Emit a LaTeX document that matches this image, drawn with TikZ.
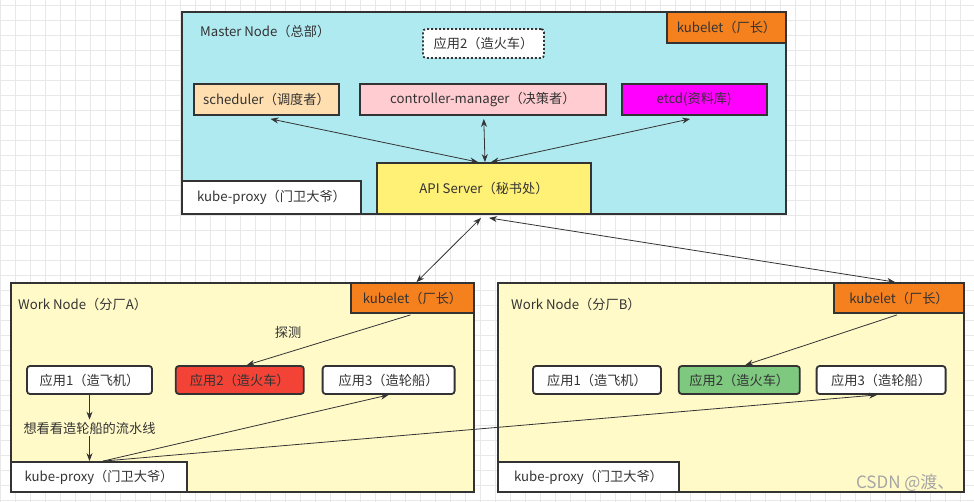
\documentclass[tikz,border=0pt]{standalone}
\usepackage{fontspec}
\setmainfont{Noto Sans CJK SC}
\usepackage{xcolor}
\usetikzlibrary{arrows.meta,positioning,calc}
\definecolor{mastercyan}{RGB}{176,234,241}
\definecolor{workyellow}{RGB}{255,250,200}
\definecolor{kubeorange}{RGB}{244,128,30}
\definecolor{schedpeach}{RGB}{255,223,176}
\definecolor{ctrlpink}  {RGB}{255,204,209}
\definecolor{etcdmag}   {RGB}{255,0,255}
\definecolor{apiyellow} {RGB}{255,240,118}
\definecolor{appred}    {RGB}{243,67,54}
\definecolor{appgreen}  {RGB}{126,200,128}
\definecolor{edgegray}  {RGB}{51,51,51}
\definecolor{txtgray}   {RGB}{51,51,51}
\definecolor{gridgray}  {RGB}{232,232,232}
\definecolor{wmgray}    {RGB}{165,165,165}
\newcommand{\diagfont}{\fontsize{13.2}{16}\selectfont}
\tikzset{
  txt/.style    ={font=\diagfont, text=txtgray, inner sep=2pt},
  base/.style   ={txt, draw=edgegray, line width=1.8pt, inner sep=0pt},
  area/.style   ={base, fill=#1},
  area/.default=white,
  tag/.style    ={base, fill=#1, minimum height=30},
  comp/.style   ={base, fill=#1, minimum height=31},
  app/.style    ={base, fill=#1, rounded corners=3pt, minimum height=28},
  app/.default=white,
  link/.style   ={{Stealth[length=8pt,width=6pt]}-{Stealth[length=8pt,width=6pt]},
                  line width=0.8pt, draw=edgegray},
  arr/.style    ={-{Stealth[length=8pt,width=6pt]}, line width=0.8pt, draw=edgegray},
  gridline/.style={draw=gridgray, line width=0.8pt},
}
\begin{document}
\begin{tikzpicture}[x=1pt,y=-1pt]
  \useasboundingbox (0,0) rectangle (974,502);
  \fill[white] (0,0) rectangle (974,502);
  \foreach \gx in {0,15,...,970} \draw[gridline] (\gx,0) -- (\gx,502);
  \foreach \gy in {5,20,...,500} \draw[gridline] (0,\gy) -- (974,\gy);
  %% master node
  \node[area=mastercyan, minimum width=604, minimum height=202] (master) at (484,113) {};
  \node[txt, anchor=west] (mtitle) at (198,31) {Master Node（总部）};
  \node[tag=kubeorange, minimum width=119, minimum height=31, anchor=north east] (kubM) at (master.north east) {kubelet（厂长）};
  \node[app, dash pattern=on 2pt off 2pt, minimum width=121, minimum height=29] (app2M) at (483.5,43.5) {应用2（造火车）};
  \node[comp=schedpeach, minimum width=145] (sched) at (266.5,99.5) {scheduler（调度者）};
  \node[comp=ctrlpink, minimum width=246, right=19 of sched] (ctrl) {controller-manager（决策者）};
  \node[comp=etcdmag, minimum width=145, right=14 of ctrl] (etcd) {etcd(资料库)};
  \node[area, minimum width=179, minimum height=33, anchor=south west] (proxyM) at (master.south west) {kube-proxy（门卫大爷）};
  \node[area=apiyellow, minimum width=214, minimum height=51, anchor=south] (api) at (master.south) {API Server（秘书处）};
  %% work node A
  \node[area=workyellow, minimum width=463, minimum height=209] (workA) at (242.5,387.5) {};
  \node[txt, anchor=west] (titleA) at (16,304) {Work Node（分厂A）};
  \node[tag=kubeorange, minimum width=123, anchor=north east] (kubA) at (workA.north east) {kubelet（厂长）};
  \node[txt] (probe) at (288,332) {探测};
  \node[app, minimum width=125] (app1A) at (89.5,380) {应用1（造飞机）};
  \node[app=appred, minimum width=128, right=22 of app1A] (app2A) {应用2（造火车）};
  \node[app, minimum width=132, right=17 of app2A] (app3A) {应用3（造轮船）};
  \node[txt] (want) at (89.5,428) {想看看造轮船的流水线};
  \node[area, minimum width=176, minimum height=30, anchor=south west] (proxyA) at (workA.south west) {kube-proxy（门卫大爷）};
  %% work node B
  \node[area=workyellow, minimum width=466, minimum height=209] (workB) at (731,387.5) {};
  \node[txt, anchor=west] (titleB) at (509,304) {Work Node（分厂B）};
  \node[tag=kubeorange, minimum width=130, anchor=north east] (kubB) at (workB.north east) {kubelet（厂长）};
  \node[app, minimum width=128] (app1B) at (597,380) {应用1（造飞机）};
  \node[app=appgreen, minimum width=121, right=16 of app1B] (app2B) {应用2（造火车）};
  \node[app, minimum width=129, right=15 of app2B] (app3B) {应用3（造轮船）};
  \node[area, minimum width=181, minimum height=30, anchor=south west] (proxyB) at (workB.south west) {kube-proxy（门卫大爷）};
  \node[font=\fontsize{17}{20}\selectfont, text=wmgray, anchor=east] (mark) at (958,483) {CSDN @渡、};
  %% connectors
  \draw[link] ($(sched.south)+(4,3)$) -- ($(api.north)+(-6,0)$);
  \draw[link] ($(ctrl.south)+(1,3)$) -- ($(api.north)+(1,0)$);
  \draw[link] ($(etcd.south)+(-4,3)$) -- ($(api.north)+(7,0)$);
  \draw[link] ($(api.south)+(-3,3)$) -- ($(kubA.north)+(4,0)$);
  \draw[link] ($(api.south)+(5,3)$) -- ($(kubB.north)+(-4,0)$);
  \draw[arr] ($(kubA.south)+(-2,1)$) -- ($(app2A.north)+(7,0)$);
  \draw[arr] ($(kubB.south)+(-2,1)$) -- ($(app2B.north)+(6,0)$);
  \draw[arr] (app1A.south) -- (want.north);
  \draw[arr] (want.south) -- (want.south |- proxyA.north);
  \draw[arr] ($(proxyA.north)+(4,0)$) -- (app3A.south);
  \draw[arr] ($(proxyA.north)+(4,0)$) -- ($(app3B.south)+(-4,0)$);
\end{tikzpicture}
\end{document}
